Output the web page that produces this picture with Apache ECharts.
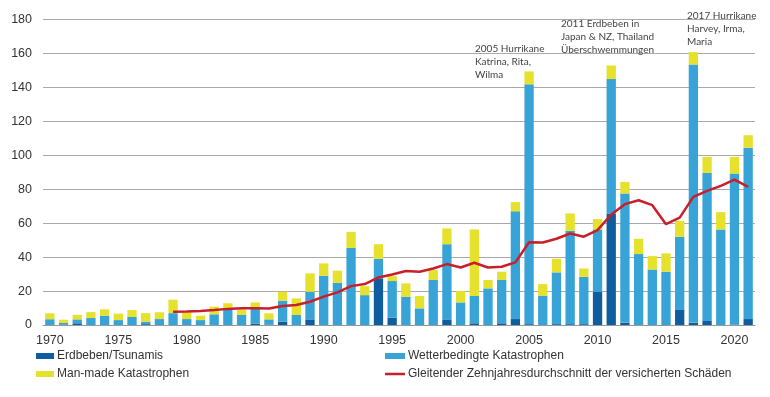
<!DOCTYPE html>
<html lang="de">
<head>
    <meta charset="UTF-8">
    <script src="https://cdn.jsdelivr.net/npm/echarts@6/dist/echarts.min.js"></script>
    <title>Versicherte Schäden</title>
    <style>
        html, body { margin: 0; padding: 0; background: #fff; }
        #main { width: 770px; height: 397px; }
    </style>
</head>
<body>
<div id="main"></div>
<script type="text/javascript">
    let years = [];
    for (let y = 1970; y <= 2021; y++) years.push(String(y));

    // versicherte Schäden in Mrd. USD
    let quake = [0, 0.3, 1, 0, 0, 0, 0, 0.5, 0, 0,
        0, 0, 0, 0, 0, 0.8, 0.3, 2, 0, 3.3,
        0, 0, 0, 0, 27.5, 4.3, 0, 0, 0, 3.3,
        0, 1, 0, 1, 3.5, 0.5, 0, 0.5, 0.5, 0.5,
        19.6, 65.7, 1.4, 0, 0, 0, 9.2, 1.4, 2.4, 0,
        0.3, 3.5];
    let weather = [3.4, 0.9, 2.3, 4.1, 5.5, 2.9, 4.7, 1.5, 3.5, 7.0,
        3.5, 2.9, 6.3, 9.2, 5.9, 9.0, 3.0, 12.3, 5.9, 16.3,
        29, 24.9, 45.5, 17.6, 11.5, 21.6, 16.7, 9.8, 26.5, 44.3,
        13.3, 16.1, 21.6, 25.5, 63.5, 141.3, 17.3, 30.5, 55, 27.9,
        36.7, 79.2, 76.1, 41.8, 32.7, 31.4, 42.8, 152.1, 87.2, 56.3,
        88.9, 101];
    let manmade = [3.5, 1.9, 2.7, 3.5, 3.7, 3.8, 4.1, 5.0, 4.0, 7.9,
        4.0, 2.6, 4.5, 3.6, 3.3, 3.5, 3.6, 5.3, 9.8, 10.8,
        7.3, 7.1, 9.4, 5.3, 8.6, 2.9, 7.8, 7.3, 5.9, 9.3,
        6.7, 39.2, 4.9, 4.9, 5.4, 7.6, 6.8, 8.0, 10.2, 4.9,
        6.1, 8.0, 6.8, 9.0, 7.9, 10.8, 9.4, 7.3, 9.4, 10.2,
        9.8, 7.3];
    let average = [null, null, null, null, null, null, null, null, null, 7.8,
        8.0, 8.3, 8.8, 9.5, 9.8, 9.8, 9.7, 11.2, 11.8, 13.7,
        16.7, 19.2, 22.9, 24.1, 28, 29.8, 31.8, 31.4, 33.3, 35.9,
        33.9, 36.7, 33.9, 34.3, 36.9, 48.8, 48.6, 50.8, 53.9, 52,
        55.9, 65.1, 71.2, 73.5, 70.6, 59.4, 63.3, 75.5, 79, 82,
        85.7, 81.4];

    let notes = [
        { x: 475, y: 42, text: '2005 Hurrikane\nKatrina, Rita,\nWilma' },
        { x: 561, y: 17, text: '2011 Erdbeben in\nJapan & NZ, Thailand\nÜberschwemmungen' },
        { x: 687, y: 9, text: '2017 Hurrikane\nHarvey, Irma,\nMaria' }
    ];

    let labelFont = 'Liberation Sans';
    // flat line icon for the legend, 6px tall box with a 2.5px stroke
    let lineIcon = 'path://M0,0H0.01V0.01H0Z M0,1.75H20V4.25H0Z M0,5.99H0.01V6H0Z';
    let myChart = echarts.init(document.getElementById('main'));

    let legendText = { fontSize: 12, color: '#333', padding: [0, 0, 0, -2] };

    let option = {
        animation: false,
        textStyle: { fontFamily: labelFont },
        grid: { left: 43, right: 15, top: 19.5, bottom: 72 },
        legend: [{
            orient: 'vertical',
            left: 36,
            top: 350,
            padding: 0,
            itemWidth: 18,
            itemHeight: 6,
            itemGap: 6,
            icon: 'rect',
            textStyle: legendText,
            data: ['Erdbeben/Tsunamis', 'Man-made Katastrophen']
        }, {
            orient: 'vertical',
            left: 385,
            top: 350,
            padding: 0,
            itemWidth: 20,
            itemHeight: 6,
            itemGap: 6,
            textStyle: legendText,
            data: [{ name: 'Wetterbedingte Katastrophen', icon: 'rect' },
                { name: 'Gleitender Zehnjahresdurchschnitt der versicherten Schäden', icon: lineIcon }]
        }],
        xAxis: {
            type: 'category',
            data: years,
            axisLine: { lineStyle: { color: '#999' } },
            axisTick: { interval: 0, length: 4, lineStyle: { color: '#999' } },
            axisLabel: {
                interval: function (i) { return i % 5 === 0; },
                color: '#333',
                fontSize: 12.5,
                margin: 9
            }
        },
        yAxis: {
            type: 'value',
            min: 0,
            max: 180,
            interval: 20,
            axisLine: { show: false },
            axisTick: { show: false },
            axisLabel: { color: '#333', fontSize: 12.5, margin: 11 },
            splitLine: { lineStyle: { color: '#aaa', width: 1 } }
        },
        graphic: notes.map(function (n) {
            return {
                type: 'text',
                left: n.x,
                top: n.y,
                z: 10,
                style: {
                    text: n.text,
                    font: '10px Lato',
                    lineHeight: 13,
                    fill: '#444'
                }
            };
        }),
        series: [{
            name: 'Erdbeben/Tsunamis',
            type: 'bar',
            stack: 'total',
            barWidth: '68%',
            itemStyle: { color: '#0f5d9e' },
            data: quake
        }, {
            name: 'Wetterbedingte Katastrophen',
            type: 'bar',
            stack: 'total',
            itemStyle: { color: '#37a3d6' },
            data: weather
        }, {
            name: 'Man-made Katastrophen',
            type: 'bar',
            stack: 'total',
            itemStyle: { color: '#e6e12c' },
            data: manmade
        }, {
            name: 'Gleitender Zehnjahresdurchschnitt der versicherten Schäden',
            type: 'line',
            symbol: 'none',
            z: 5,
            lineStyle: { color: '#c81f2b', width: 2.5 },
            itemStyle: { color: '#c81f2b' },
            data: average
        }]
    };

    myChart.setOption(option);
</script>
</body>
</html>
